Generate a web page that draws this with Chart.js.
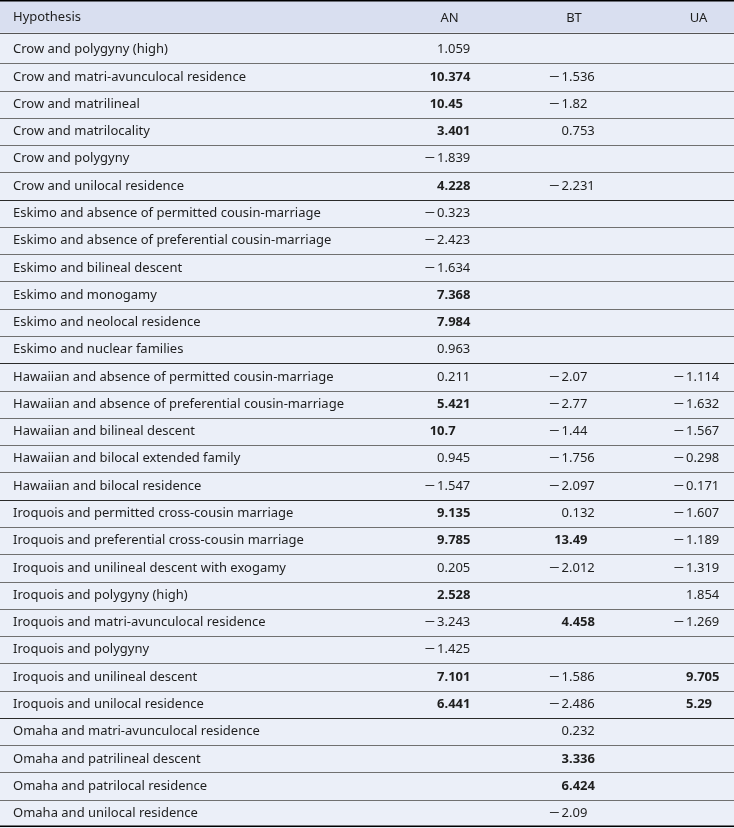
<!DOCTYPE html>
<html>
<head>
<meta charset="utf-8">
<script src="https://cdn.jsdelivr.net/npm/chart.js@4/dist/chart.umd.min.js"></script>
<style>
  html, body { margin: 0; padding: 0; background: #ebeff8; }
  #wrap { width: 734px; height: 828px; position: relative; }
</style>
</head>
<body>
<div id="wrap"><canvas id="c"></canvas></div>
<script>
// ---- data ----
const headerLabel = 'Hypothesis';
const columns = ['AN', 'BT', 'UA'];
const hypotheses = [
  'Crow and polygyny (high)',
  'Crow and matri-avunculocal residence',
  'Crow and matrilineal',
  'Crow and matrilocality',
  'Crow and polygyny',
  'Crow and unilocal residence',
  'Eskimo and absence of permitted cousin-marriage',
  'Eskimo and absence of preferential cousin-marriage',
  'Eskimo and bilineal descent',
  'Eskimo and monogamy',
  'Eskimo and neolocal residence',
  'Eskimo and nuclear families',
  'Hawaiian and absence of permitted cousin-marriage',
  'Hawaiian and absence of preferential cousin-marriage',
  'Hawaiian and bilineal descent',
  'Hawaiian and bilocal extended family',
  'Hawaiian and bilocal residence',
  'Iroquois and permitted cross-cousin marriage',
  'Iroquois and preferential cross-cousin marriage',
  'Iroquois and unilineal descent with exogamy',
  'Iroquois and polygyny (high)',
  'Iroquois and matri-avunculocal residence',
  'Iroquois and polygyny',
  'Iroquois and unilineal descent',
  'Iroquois and unilocal residence',
  'Omaha and matri-avunculocal residence',
  'Omaha and patrilineal descent',
  'Omaha and patrilocal residence',
  'Omaha and unilocal residence'
];
const anValues = [1.059, 10.374, 10.45, 3.401, -1.839, 4.228,
  -0.323, -2.423, -1.634, 7.368, 7.984, 0.963,
  0.211, 5.421, 10.7, 0.945, -1.547,
  9.135, 9.785, 0.205, 2.528, -3.243, -1.425, 7.101, 6.441,
  null, null, null, null];
const btValues = [null, -1.536, -1.82, 0.753, null, -2.231,
  null, null, null, null, null, null,
  -2.07, -2.77, -1.44, -1.756, -2.097,
  0.132, 13.49, -2.012, null, 4.458, null, -1.586, -2.486,
  0.232, 3.336, 6.424, -2.09];
const uaValues = [null, null, null, null, null, null,
  null, null, null, null, null, null,
  -1.114, -1.632, -1.567, -0.298, -0.171,
  -1.607, -1.189, -1.319, 1.854, -1.269, null, 9.705, 5.29,
  null, null, null, null];
const boldThreshold = 1.96; // significant values are set in bold

// ---- chart ----
const FONT = '"Noto Sans", "Open Sans", sans-serif';
const TEXT = '#1e1e1e';
const seriesValues = [anValues, btValues, uaValues];

const datasets = columns.map((col, ci) => ({
  label: col,
  data: seriesValues[ci]
    .map((v, ri) => ({ x: col, y: hypotheses[ri], v: v }))
    .filter(p => p.v !== null),
  pointRadius: 0,
  pointHoverRadius: 0
}));

const tablePlugin = {
  id: 'tablePlugin',
  beforeDraw(chart) {
    const ctx = chart.ctx, W = chart.width, H = chart.height;
    const area = chart.chartArea;
    const headerLine = area.top - 3.5;
    ctx.save();
    ctx.fillStyle = '#ebeff8';
    ctx.fillRect(0, 0, W, H);
    ctx.fillStyle = '#d9dff0';
    ctx.fillRect(0, 0, W, headerLine);
    // row separators
    const ys = chart.scales.y;
    for (let i = 1; i < hypotheses.length; i++) {
      const y = (ys.getPixelForValue(i - 1) + ys.getPixelForValue(i)) / 2;
      const groupBreak = hypotheses[i].split(' ')[0] !== hypotheses[i - 1].split(' ')[0];
      ctx.strokeStyle = groupBreak ? '#2a2a2a' : '#707070';
      ctx.lineWidth = 1;
      ctx.beginPath();
      ctx.moveTo(0, Math.round(y) + 0.5);
      ctx.lineTo(W, Math.round(y) + 0.5);
      ctx.stroke();
    }
    // header line
    ctx.strokeStyle = '#555';
    ctx.beginPath();
    ctx.moveTo(0, Math.round(headerLine) + 0.5);
    ctx.lineTo(W, Math.round(headerLine) + 0.5);
    ctx.stroke();
    // top and bottom rules
    ctx.strokeStyle = '#000';
    ctx.lineWidth = 1.5;
    ctx.beginPath();
    ctx.moveTo(0, 0.75); ctx.lineTo(W, 0.75);
    ctx.moveTo(0, area.bottom - 0.75); ctx.lineTo(W, area.bottom - 0.75);
    ctx.stroke();
    // header label "Hypothesis"
    ctx.fillStyle = TEXT;
    ctx.font = '13px ' + FONT;
    ctx.textAlign = 'left';
    ctx.textBaseline = 'middle';
    ctx.fillText(headerLabel, ys.left, headerLine / 2 + 1);
    ctx.restore();
  },
  afterDatasetsDraw(chart) {
    const ctx = chart.ctx;
    ctx.save();
    ctx.fillStyle = TEXT;
    ctx.textBaseline = 'middle';
    chart.data.datasets.forEach((ds, di) => {
      const meta = chart.getDatasetMeta(di);
      meta.data.forEach((el, i) => {
        const v = ds.data[i].v;
        const bold = v > boldThreshold;
        ctx.font = (bold ? 'bold ' : '') + '13px ' + FONT;
        const s = Math.abs(v).toString();
        const [ip, fp] = s.split('.');
        const xd = el.x - 5;
        ctx.textAlign = 'right';
        ctx.fillText(ip, xd, el.y);
        if (v < 0) {
          const w = ctx.measureText(ip).width;
          ctx.save();
          ctx.translate(xd - w - 2, el.y);
          ctx.scale(1.45, 1);
          ctx.fillText('\u2212', 0, 0);
          ctx.restore();
        }
        if (fp !== undefined) {
          ctx.textAlign = 'left';
          ctx.fillText('.' + fp, xd, el.y);
        }
      });
    });
    ctx.restore();
  }
};

new Chart(document.getElementById('c'), {
  type: 'scatter',
  data: { datasets },
  options: {
    responsive: true,
    maintainAspectRatio: false,
    animation: false,
    events: [],
    layout: { padding: { left: 13, right: 35.5, top: 0, bottom: 1 } },
    plugins: { legend: { display: false }, tooltip: { enabled: false } },
    scales: {
      x: {
        type: 'category',
        labels: columns,
        position: 'top',
        offset: false,
        grid: { display: false, drawTicks: false },
        border: { display: false },
        ticks: { font: { family: FONT, size: 13 }, color: TEXT, padding: 10, autoSkip: false, maxRotation: 0 },
        afterFit(scale) { scale.height = 36; scale.paddingLeft = 0; scale.paddingRight = 0; }
      },
      y: {
        type: 'category',
        labels: hypotheses,
        offset: true,
        grid: { display: false, drawTicks: false },
        border: { display: false },
        ticks: { font: { family: FONT, size: 13 }, color: TEXT, crossAlign: 'far', autoSkip: false, padding: 0 },
        afterFit(scale) { scale.width = 449.5 - 13; scale.paddingTop = 0; scale.paddingBottom = 0; }
      }
    }
  },
  plugins: [tablePlugin]
});
</script>
</body>
</html>
